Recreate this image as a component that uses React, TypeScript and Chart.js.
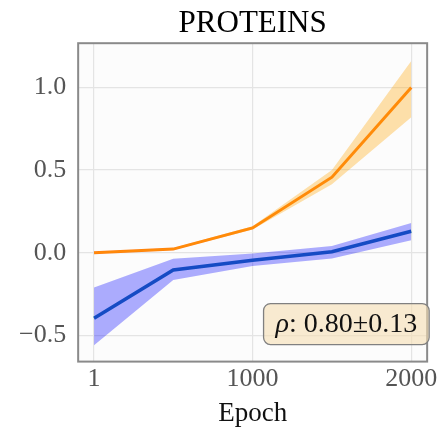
import React, { useEffect, useRef } from "react";
import { Chart, registerables } from "chart.js";

Chart.register(...registerables);

const epochs = [1, 500, 1000, 1500, 2000];
const orangeMean = [0.0, 0.022, 0.15, 0.457, 1.0];
const orangeUpper = [0.005, 0.028, 0.16, 0.5, 1.16];
const orangeLower = [-0.005, 0.016, 0.14, 0.415, 0.82];
const blueMean = [-0.396, -0.104, -0.045, 0.006, 0.13];
const blueUpper = [-0.21, -0.037, -0.005, 0.04, 0.18];
const blueLower = [-0.56, -0.165, -0.08, -0.035, 0.075];
const xTicks = [1, 1000, 2000];
const yTicks = [-0.5, 0.0, 0.5, 1.0];
const titleText = "PROTEINS";
const xLabel = "Epoch";
const boxSymbol = "ρ";
const boxText = ": 0.80±0.13";

const SERIF = "'Liberation Serif', 'Times New Roman', serif";

const pts = (ys: number[]) => epochs.map((x, i) => ({ x, y: ys[i] }));

export default function App() {
  const ref = useRef<HTMLCanvasElement>(null);
  useEffect(() => {
    document.body.style.margin = "0";
    const framePlugin = {
      id: "frame",
      beforeDraw(chart: any) {
        const { ctx, chartArea: a } = chart;
        ctx.save();
        ctx.fillStyle = "#fcfcfc";
        ctx.fillRect(a.left, a.top, a.right - a.left, a.bottom - a.top);
        ctx.restore();
      },
      afterDraw(chart: any) {
        const { ctx, chartArea: a } = chart;
        ctx.save();
        ctx.strokeStyle = "#8a8a8a";
        ctx.lineWidth = 2;
        ctx.strokeRect(a.left, a.top, a.right - a.left, a.bottom - a.top);
        // text box
        const fontN = `28px ${SERIF}`;
        const fontI = `italic 28px ${SERIF}`;
        ctx.font = fontI;
        const sw = ctx.measureText(boxSymbol).width;
        ctx.font = fontN;
        const tw = ctx.measureText(boxText).width;
        const padX = 12;
        const h = 41;
        const w = sw + tw + padX * 2;
        const x = a.right + 2 - w;
        const y = a.bottom - 17 - h;
        ctx.beginPath();
        ctx.roundRect(x, y, w, h, 7);
        ctx.fillStyle = "rgba(245,222,179,0.6)";
        ctx.fill();
        ctx.strokeStyle = "#808080";
        ctx.lineWidth = 1.3;
        ctx.stroke();
        ctx.fillStyle = "#111";
        ctx.textBaseline = "middle";
        ctx.textAlign = "left";
        ctx.font = fontI;
        ctx.fillText(boxSymbol, x + padX, y + h / 2 + 1);
        ctx.font = fontN;
        ctx.fillText(boxText, x + padX + sw, y + h / 2 + 1);
        ctx.restore();
      },
    };
    const chart = new Chart(ref.current!, {
      type: "line",
      data: {
        datasets: [
          {
            data: pts(orangeUpper),
            borderWidth: 0,
            pointRadius: 0,
            fill: "+1",
            backgroundColor: "rgba(255,165,0,0.33)",
            borderColor: "rgba(0,0,0,0)",
          },
          {
            data: pts(orangeLower),
            borderWidth: 0,
            pointRadius: 0,
            fill: false,
            borderColor: "rgba(0,0,0,0)",
          },
          {
            data: pts(blueUpper),
            borderWidth: 0,
            pointRadius: 0,
            fill: "+1",
            backgroundColor: "rgba(0,0,255,0.32)",
            borderColor: "rgba(0,0,0,0)",
          },
          {
            data: pts(blueLower),
            borderWidth: 0,
            pointRadius: 0,
            fill: false,
            borderColor: "rgba(0,0,0,0)",
          },
          {
            data: pts(orangeMean),
            borderColor: "#ff7f0e",
            borderWidth: 3,
            pointRadius: 0,
            fill: false,
          },
          {
            data: pts(blueMean),
            borderColor: "#1f6fa9",
            borderWidth: 3.5,
            pointRadius: 0,
            fill: false,
          },
        ],
      },
      options: {
        animation: false,
        responsive: false,
        layout: { padding: { left: 7, right: 15, top: 0, bottom: 0 } },
        plugins: {
          legend: { display: false },
          tooltip: { enabled: false },
          title: {
            display: true,
            text: titleText,
            fullSize: false,
            color: "#000",
            font: { family: SERIF, size: 31, weight: "normal" },
            padding: { top: 5, bottom: 1 },
          },
        },
        scales: {
          x: {
            type: "linear",
            min: -99,
            max: 2100,
            afterBuildTicks: (s: any) => {
              s.ticks = xTicks.map((v) => ({ value: v }));
            },
            ticks: {
              color: "#555",
              font: { family: SERIF, size: 26, lineHeight: 1.0 },
              padding: 5,
              maxRotation: 0,
              autoSkip: false,
              callback: (v: any) => String(v),
            },
            grid: { color: "#e4e4e4", lineWidth: 1.2, drawTicks: false },
            border: { display: false },
            title: {
              display: true,
              text: xLabel,
              color: "#111",
              font: { family: SERIF, size: 27 },
              padding: { top: 0, bottom: 0 },
            },
          },
          y: {
            type: "linear",
            min: -0.659,
            max: 1.268,
            afterBuildTicks: (s: any) => {
              s.ticks = yTicks.map((v) => ({ value: v }));
            },
            ticks: {
              color: "#555",
              font: { family: SERIF, size: 26 },
              padding: 12,
              autoSkip: false,
              callback: (v: any) => {
                const n = Number(v);
                const s = Math.abs(n).toFixed(1);
                return n < 0 ? "−" + s : s;
              },
            },
            grid: { color: "#e4e4e4", lineWidth: 1.2, drawTicks: false },
            border: { display: false },
          },
        },
      },
      plugins: [framePlugin],
    });
    return () => chart.destroy();
  }, []);
  return <canvas ref={ref} width={443} height={430} style={{ display: "block" }} />;
}
